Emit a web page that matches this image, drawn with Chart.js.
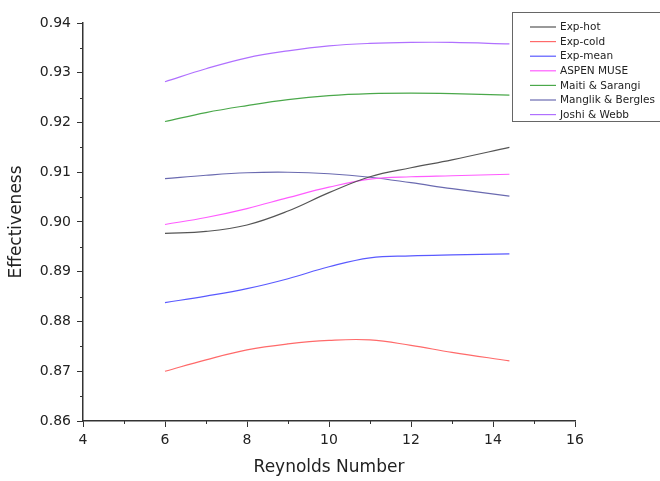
<!DOCTYPE html>
<html>
<head>
<meta charset="utf-8">
<script src="https://cdn.jsdelivr.net/npm/chart.js@4.4.1/dist/chart.umd.min.js"></script>
<style>
  html,body{margin:0;padding:0;background:#fff;}
  #wrap{width:660px;height:481px;}
</style>
</head>
<body>
<div id="wrap"><canvas id="chart" width="660" height="481"></canvas></div>
<script>
// reynolds numbers where values were read
const reynolds = [6, 7, 8, 9, 10, 11, 12, 13, 14.4];

const expHot   = [0.8977, 0.8981, 0.8994, 0.9022, 0.9059, 0.9091, 0.9109, 0.9125, 0.9150];
const expCold  = [0.8700, 0.8723, 0.8743, 0.8755, 0.8762, 0.8763, 0.8752, 0.8738, 0.8721];
const expMean  = [0.8838, 0.8851, 0.8866, 0.8886, 0.8910, 0.8928, 0.8932, 0.8934, 0.8936];
const aspen    = [0.8995, 0.9009, 0.9027, 0.9049, 0.9070, 0.9086, 0.9091, 0.9093, 0.9096];
const maiti    = [0.9202, 0.9220, 0.9234, 0.9246, 0.9254, 0.9258, 0.9259, 0.9258, 0.9255];
const manglik  = [0.9087, 0.9094, 0.9099, 0.9100, 0.9097, 0.9090, 0.9079, 0.9067, 0.9052];
const joshi    = [0.9282, 0.9308, 0.9330, 0.9344, 0.9354, 0.9359, 0.9361, 0.9361, 0.9358];

const seriesNames = ["Exp-hot","Exp-cold","Exp-mean","ASPEN MUSE","Maiti & Sarangi","Manglik & Bergles","Joshi & Webb"];
const seriesValues = [expHot, expCold, expMean, aspen, maiti, manglik, joshi];
const seriesColors = ["#555555","#ff6a6a","#5a5aff","#ff5cff","#4aa84a","#6a6ab0","#b070ff"];

const xTicks = [4, 6, 8, 10, 12, 14, 16];
const yTicks = [0.86, 0.87, 0.88, 0.89, 0.90, 0.91, 0.92, 0.93, 0.94];

const FONT = "'DejaVu Sans', Arial, sans-serif";

const datasets = seriesNames.map((name,i)=>({
  label: name,
  data: reynolds.map((x,j)=>({x:x, y:seriesValues[i][j]})),
  borderColor: seriesColors[i],
  borderWidth: 1.2,
  pointRadius: 0,
  tension: 0.4,
  fill: false
}));

// minor ticks + legend box
const extras = {
  id: "extras",
  afterDraw(chart){
    const ctx = chart.ctx;
    const xs = chart.scales.x, ys = chart.scales.y;
    ctx.save();
    ctx.strokeStyle = "#333";
    ctx.lineWidth = 1;
    for(let v=5; v<16; v+=2){
      const px = Math.round(xs.getPixelForValue(v))+0.5;
      ctx.beginPath(); ctx.moveTo(px, ys.bottom); ctx.lineTo(px, ys.bottom+3); ctx.stroke();
    }
    for(let k=0;k<8;k++){
      const py = Math.round(ys.getPixelForValue(0.865+k*0.01))+0.5;
      ctx.beginPath(); ctx.moveTo(xs.left, py); ctx.lineTo(xs.left-3, py); ctx.stroke();
    }

    // legend
    const bx = 512.5, by = 12.5, bw = 152, bh = 109;
    ctx.fillStyle = "#fff";
    ctx.fillRect(bx, by, bw, bh);
    ctx.strokeStyle = "#666";
    ctx.strokeRect(bx, by, bw, bh);
    ctx.font = "10.5px " + FONT;
    ctx.textBaseline = "middle";
    seriesNames.forEach((n,i)=>{
      const y = 27 + i*14.6;
      ctx.strokeStyle = seriesColors[i];
      ctx.lineWidth = 1.2;
      ctx.beginPath(); ctx.moveTo(530, y); ctx.lineTo(556, y); ctx.stroke();
      ctx.fillStyle = "#222";
      ctx.fillText(n, 560, y+0.5);
    });
    ctx.restore();
  }
};

new Chart(document.getElementById("chart"),{
  type: "line",
  data: { datasets: datasets },
  options: {
    responsive: false,
    animation: false,
    layout: { padding: { top: 23, right: 85, left: 0, bottom: 0 } },
    plugins: { legend: { display: false }, tooltip: { enabled: false } },
    scales: {
      x: {
        type: "linear",
        min: xTicks[0], max: xTicks[xTicks.length-1],
        afterBuildTicks: s => { s.ticks = xTicks.map(v=>({value:v})); },
        afterFit: s => { s.height = 60; },
        ticks: { color: "#222", font: { family: FONT, size: 14 }, padding: 5, maxRotation: 0 },
        grid: { drawOnChartArea: false, color: "#333", tickLength: 6 },
        border: { color: "#333", width: 1.5 },
        title: { display: true, text: "Reynolds Number", color: "#222",
                 font: { family: FONT, size: 17 }, padding: 3 }
      },
      y: {
        min: yTicks[0], max: yTicks[yTicks.length-1],
        afterBuildTicks: s => { s.ticks = yTicks.map(v=>({value:v})); },
        afterFit: s => { s.width = 83; },
        ticks: { color: "#222", font: { family: FONT, size: 14 }, padding: 6,
                 callback: v => v.toFixed(2) },
        grid: { drawOnChartArea: false, color: "#333", tickLength: 6 },
        border: { color: "#333", width: 1.5 },
        title: { display: true, text: "Effectiveness", color: "#222",
                 font: { family: FONT, size: 17 }, padding: 6 }
      }
    }
  },
  plugins: [extras]
});
</script>
</body>
</html>
